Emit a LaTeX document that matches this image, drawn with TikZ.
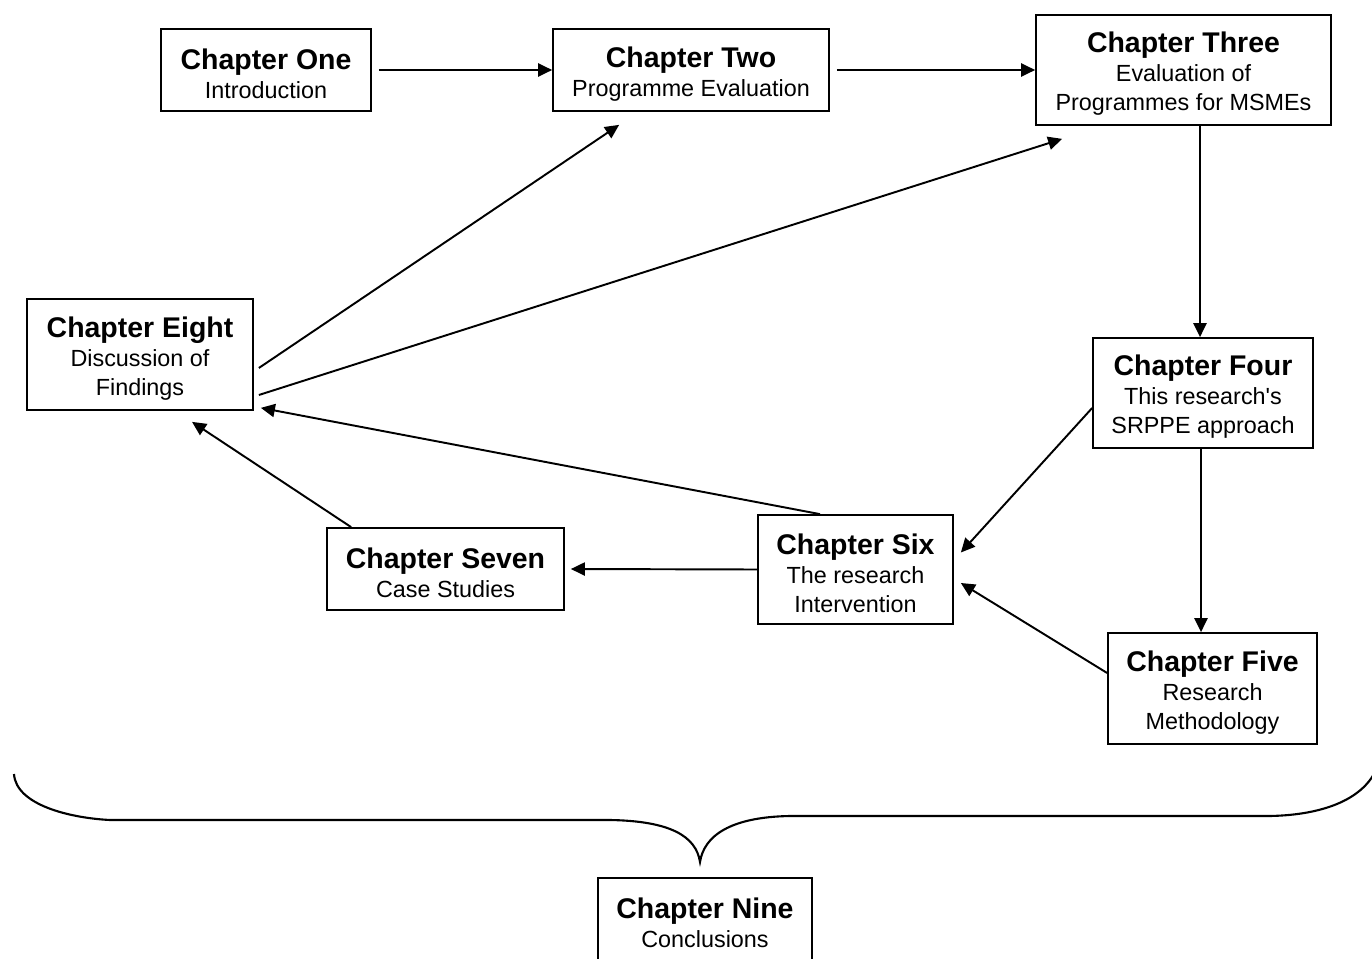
\documentclass[tikz,border=0pt]{standalone}
\usepackage{fontspec}
\setmainfont{Liberation Sans}
\usetikzlibrary{arrows.meta,calc}

\begin{document}
\begin{tikzpicture}[
  x=0.02cm, y=-0.02cm,
  chapbox/.style={draw, line width=1pt, align=center, inner sep=0pt,
    font=\fontsize{13.3}{16.5}\selectfont},
  link/.style={line width=1.1pt, -{Triangle[length=8pt,width=7.5pt]}},
  brace/.style={line width=1.2pt}
]
\useasboundingbox (0,0) rectangle (1372,959);

\newcommand{\chtitle}[1]{{\fontsize{16.2}{20}\selectfont\bfseries\rule{0pt}{16.2pt}#1}}

% chapter boxes
\node[chapbox, minimum width=4.2cm,  minimum height=1.64cm] (one)   at (266,70)
  {\chtitle{Chapter One}\\Introduction};
\node[chapbox, minimum width=5.52cm, minimum height=1.64cm] (two)   at (691,70)
  {\chtitle{Chapter Two}\\Programme Evaluation};
\node[chapbox, minimum width=5.9cm,  minimum height=2.2cm]  (three) at (1183.5,70)
  {\chtitle{Chapter Three}\\Evaluation of\\Programmes for MSMEs};
\node[chapbox, minimum width=4.52cm, minimum height=2.22cm] (eight) at (140,354.5)
  {\chtitle{Chapter Eight}\\Discussion of\\Findings};
\node[chapbox, minimum width=4.4cm,  minimum height=2.2cm]  (four)  at (1203,393)
  {\chtitle{Chapter Four}\\This research\textquotesingle s\\SRPPE approach};
\node[chapbox, minimum width=4.74cm, minimum height=1.64cm] (seven) at (445.5,569)
  {\chtitle{Chapter Seven}\\Case Studies};
\node[chapbox, minimum width=3.9cm,  minimum height=2.18cm] (six)   at (855.5,569.5)
  {\chtitle{Chapter Six}\\The research\\Intervention};
\node[chapbox, minimum width=4.18cm, minimum height=2.22cm] (five)  at (1212.5,688.5)
  {\chtitle{Chapter Five}\\Research\\Methodology};
\node[chapbox, minimum width=4.28cm, minimum height=1.64cm] (nine)  at (705,919)
  {\chtitle{Chapter Nine}\\Conclusions};

% connectors
\draw[link] ($(one.east)+(7,0)$) -- (two.west);
\draw[link] ($(two.east)+(7,0)$) -- (three.west);
\draw[link] ($(three.south)+(16.5,0)$) -- ($(four.north)+(-3,0)$);
\draw[link] ($(four.south)+(-2,0)$) -- ($(five.north)+(-11.5,0)$);
\draw[link] ($(four.west)+(0,15)$) -- ($(six.east)+(7,-17)$);
\draw[link] ($(five.west)+(0,-15.5)$) -- ($(six.east)+(7,13.5)$);
\draw[link] (six.west) -- ($(seven.east)+(6,0)$);
\draw[link] ($(six.north)+(-35.5,0)$) -- ($(eight.south east)+(7,-3)$);
\draw[link] ($(seven.north west)+(25,0)$) -- ($(eight.south)+(52,11)$);
\draw[link] ($(eight.east)+(5,13.5)$) -- ($(two.south west)+(67,13)$);
\draw[link] ($(eight.east)+(5,40.5)$) -- ($(three.south west)+(27,13)$);

% brace gathering chapters one to eight
\coordinate (tip) at (700,862);
\draw[brace] (14,774) .. controls (16,805) and (70,818) .. (110,820)
  -- (610,820) .. controls (670,821) and (696,836) .. (tip)
  .. controls (704,836) and (730,817) .. (790,816)
  -- (1270,816) .. controls (1322,815) and (1362,800) .. (1376,770);
\end{tikzpicture}
\end{document}
